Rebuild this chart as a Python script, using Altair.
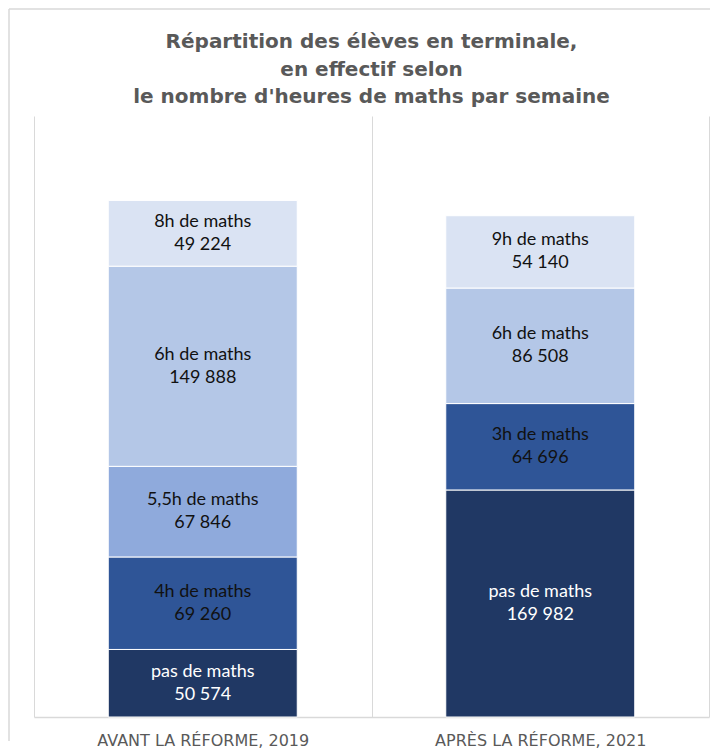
import altair as alt
import pandas as pd

periods = ["AVANT LA RÉFORME, 2019"] * 5 + ["APRÈS LA RÉFORME, 2021"] * 4
levels = ["pas de maths", "4h de maths", "5,5h de maths", "6h de maths", "8h de maths",
          "pas de maths", "3h de maths", "6h de maths", "9h de maths"]
values = [50574, 69260, 67846, 149888, 49224, 169982, 64696, 86508, 54140]
order = [0, 1, 2, 3, 4, 0, 1, 2, 3]
fills = ["#203864", "#2F5597", "#8FAADC", "#B4C7E7", "#DAE3F3",
         "#203864", "#2F5597", "#B4C7E7", "#DAE3F3"]
text_colors = ["white", "#111111", "#111111", "#111111", "#111111",
               "white", "#111111", "#111111", "#111111"]
period_order = ["AVANT LA RÉFORME, 2019", "APRÈS LA RÉFORME, 2021"]
title_text = "Répartition des élèves en terminale,\nen effectif selon\nle nombre d'heures de maths par semaine"

df = pd.DataFrame({
    "period": periods,
    "level": levels,
    "value": values,
    "idx": order,
    "fill": fills,
    "tcolor": text_colors,
})
df["label"] = [l + "\n" + f"{v:,}".replace(",", " ") for l, v in zip(levels, values)]

GRAY = "#d9d9d9"
W, H = 675, 601

x_enc = alt.X("period:N", sort=period_order, title=None,
              scale=alt.Scale(paddingInner=0, paddingOuter=0),
              axis=alt.Axis(labelAngle=0, labelFont="DejaVu Sans", labelFontSize=16,
                            labelColor="#595959", labelPadding=15, labelLimit=0,
                            ticks=False, grid=True, gridColor=GRAY, tickBand="extent",
                            domainColor=GRAY, domainWidth=1.5))

base = alt.Chart(df).transform_stack(
    stack="value", groupby=["period"], as_=["y0", "y1"],
    sort=[alt.SortField("idx", order="ascending")]
).transform_calculate(mid="(datum.y0 + datum.y1) / 2")

bars = base.mark_bar(width=alt.RelativeBandSize(0.56), stroke="white", strokeWidth=1).encode(
    x=x_enc,
    y=alt.Y("y0:Q", scale=alt.Scale(domain=[0, 448000]), axis=None),
    y2="y1:Q",
    color=alt.Color("fill:N", scale=None),
)

texts = base.mark_text(lineBreak="\n", font="Lato", fontSize=18, lineHeight=23,
                       baseline="middle", align="center", dy=-11.5).encode(
    x=alt.X("period:N", sort=period_order),
    y=alt.Y("mid:Q"),
    text="label:N",
    color=alt.Color("tcolor:N", scale=None),
)

one = alt.Data(values=[{"t": title_text}])
frame_top = alt.Chart(one).mark_rule(color=GRAY, strokeWidth=1.5).encode(
    x=alt.value(-25), x2=alt.value(676), y=alt.value(-107))
frame_left = alt.Chart(one).mark_rule(color=GRAY, strokeWidth=1.5).encode(
    x=alt.value(-25), y=alt.value(-107), y2=alt.value(625))
title = alt.Chart(one).mark_text(lineBreak="\n", font="DejaVu Sans", fontSize=20,
                                 fontWeight="bold", color="#595959", lineHeight=27.5,
                                 baseline="top", align="center").encode(
    x=alt.value(W / 2), y=alt.value(-84), text="t:N")

chart = alt.layer(frame_top, frame_left, title, bars, texts).properties(
    width=W, height=H,
    padding=0,
).configure_view(stroke=None)

chart.save("out.html", embed_options={"renderer": "svg", "actions": False})
